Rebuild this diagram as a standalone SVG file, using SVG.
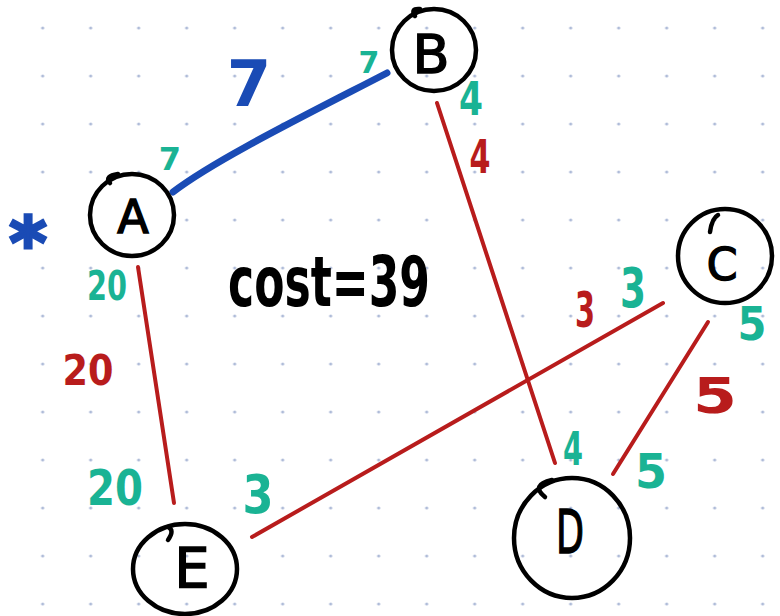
<svg xmlns="http://www.w3.org/2000/svg" width="780" height="616" viewBox="0 0 780 616">
<defs>
<pattern id="dots" x="42.7" y="28" width="48" height="48" patternUnits="userSpaceOnUse">
<circle cx="0" cy="0" r="1.6" fill="#aebbd8"/>
<circle cx="48" cy="0" r="1.6" fill="#aebbd8"/>
<circle cx="0" cy="48" r="1.6" fill="#aebbd8"/>
<circle cx="48" cy="48" r="1.6" fill="#aebbd8"/>
</pattern>
<style>
.node{fill:none;stroke:#000;stroke-width:4.5;stroke-linecap:round;stroke-linejoin:round}
.letter{font-family:"DejaVu Sans",sans-serif;font-weight:normal;fill:#000;stroke:#000;stroke-width:1.5;text-anchor:middle}
.edge{fill:none;stroke:#b81c1c;stroke-width:4;stroke-linecap:round}
.mst{fill:none;stroke:#1a4bb5;stroke-width:7;stroke-linecap:round}
.lbl{font-family:"DejaVu Sans",sans-serif;font-weight:bold;text-anchor:middle}
.teal{fill:#1ab394}
.red{fill:#b81c1c}
.blue{fill:#1a4bb5}
</style>
</defs>
<rect width="780" height="616" fill="#fff"/>
<rect width="780" height="616" fill="url(#dots)"/>
<g id="connectors">
<path class="mst" d="M173,192 C 215,160 300,118 387,73"/>
<path class="edge" d="M437,103 L555,463"/>
<path class="edge" d="M138,267 L174,503"/>
<path class="edge" d="M663,303 L252,537"/>
<path class="edge" d="M708,322 L613,474"/>
</g>
<g id="node-A">
<ellipse class="node" cx="132" cy="215" rx="42" ry="41"/>
<path class="node" d="M110,183 Q104,176 118,174"/>
<text class="letter" x="133" y="233" font-size="46">A</text>
</g>
<g id="node-B">
<ellipse class="node" cx="434" cy="50" rx="42" ry="41"/>
<path class="node" d="M415,16 Q410,8 420,9"/>
<text class="letter" x="431" y="73" font-size="54">B</text>
</g>
<g id="node-C">
<ellipse class="node" cx="725" cy="256" rx="47" ry="47"/>
<path class="node" d="M710,232 Q712,218 718,215"/>
<text class="letter" x="722" y="280" font-size="44">C</text>
</g>
<g id="node-D">
<ellipse class="node" cx="572" cy="538" rx="58" ry="60"/>
<path class="node" d="M545,497 Q530,485 552,480"/>
<text class="letter" x="570" y="553" font-size="60" textLength="28" lengthAdjust="spacingAndGlyphs">D</text>
</g>
<g id="node-E">
<ellipse class="node" cx="185" cy="569" rx="52" ry="45"/>
<path class="node" d="M168,527 Q175,530 168,540"/>
<text class="letter" x="192" y="587" font-size="56">E</text>
</g>
<g id="labels">
<text class="lbl blue" x="249" y="106" font-size="64">7</text>
<text class="lbl blue" x="28" y="268" font-size="72" stroke="#1a4bb5" stroke-width="3">*</text>
<text class="lbl teal" x="170" y="170" font-size="32">7</text>
<text class="lbl teal" x="369" y="73" font-size="30">7</text>
<text class="lbl teal" x="471" y="115" font-size="46" textLength="24" lengthAdjust="spacingAndGlyphs">4</text>
<text class="lbl teal" x="107" y="300" font-size="40" textLength="40" lengthAdjust="spacingAndGlyphs">20</text>
<text class="lbl red" x="88" y="385" font-size="42" textLength="51" lengthAdjust="spacingAndGlyphs">20</text>
<text class="lbl red" x="480" y="173" font-size="46" textLength="21" lengthAdjust="spacingAndGlyphs">4</text>
<text class="lbl teal" x="115" y="505" font-size="50" textLength="56" lengthAdjust="spacingAndGlyphs">20</text>
<text class="lbl teal" x="258" y="513" font-size="54" textLength="31" lengthAdjust="spacingAndGlyphs">3</text>
<text class="lbl red" x="585" y="327" font-size="50" textLength="20" lengthAdjust="spacingAndGlyphs">3</text>
<text class="lbl teal" x="633" y="307" font-size="56" textLength="26" lengthAdjust="spacingAndGlyphs">3</text>
<text class="lbl teal" x="752" y="340" font-size="46" textLength="29" lengthAdjust="spacingAndGlyphs">5</text>
<text class="lbl red" x="715" y="413" font-size="50" textLength="44" lengthAdjust="spacingAndGlyphs">5</text>
<text class="lbl teal" x="573" y="465" font-size="46" textLength="20" lengthAdjust="spacingAndGlyphs">4</text>
<text class="lbl teal" x="651" y="488" font-size="48" textLength="32" lengthAdjust="spacingAndGlyphs">5</text>
<text x="329" y="306" font-family="DejaVu Sans,sans-serif" font-weight="bold" font-size="70" text-anchor="middle" textLength="202" lengthAdjust="spacingAndGlyphs" fill="#000">cost=39</text>
</g>
</svg>
